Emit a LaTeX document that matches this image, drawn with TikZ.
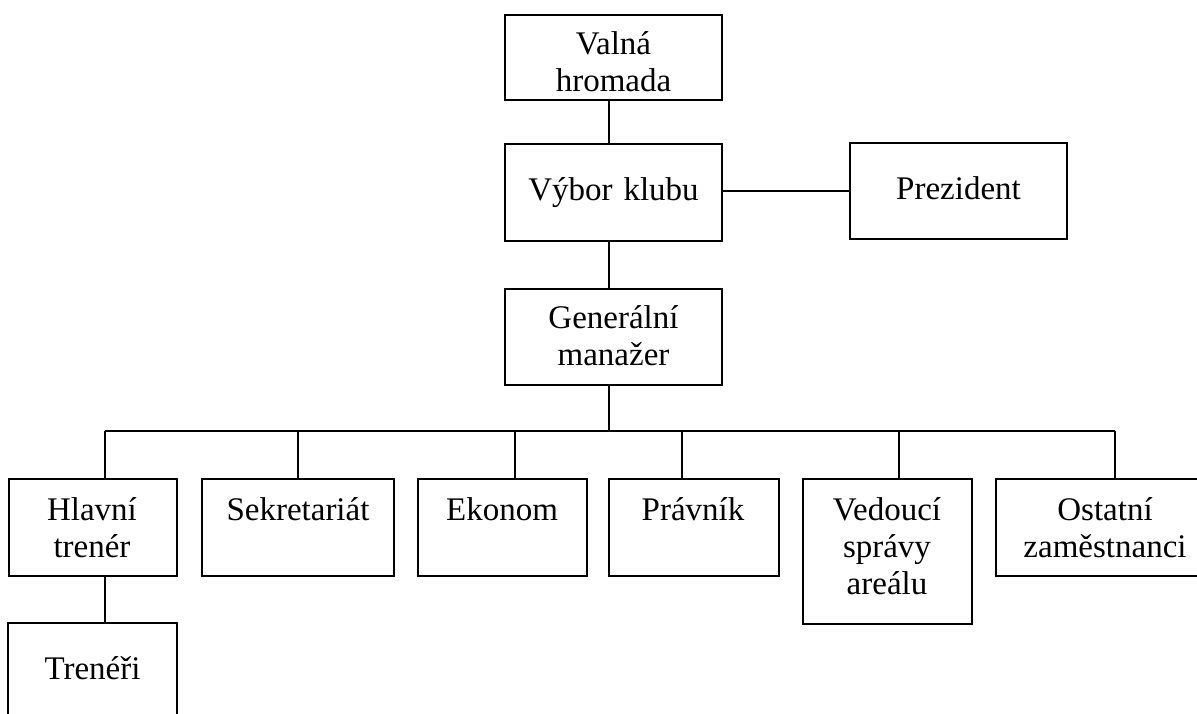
\documentclass[tikz,border=0pt]{standalone}
\usepackage{fontspec}
\setmainfont{Liberation Serif}
\begin{document}
\begin{tikzpicture}[x=1pt,y=-1pt,
  orgbox/.style={draw, line width=1.8pt, inner sep=0pt, fill=none},
  lbl/.style={anchor=base, align=center, text width=210pt, inner sep=0pt,
    font=\fontsize{33}{37}\selectfont},
  link/.style={line width=1.8pt}]
\useasboundingbox (0,0) rectangle (1197,713);

% boxes
\node[orgbox, minimum width=217pt, minimum height=85pt] (vh) at (613.5,57.5) {};
\node[orgbox, minimum width=217pt, minimum height=97pt] (vk) at (613.5,192.5) {};
\node[orgbox, minimum width=217pt, minimum height=96pt] (pz) at (958.5,191) {};
\node[orgbox, minimum width=217pt, minimum height=96pt] (gm) at (613.5,337) {};
\node[orgbox, minimum width=168pt, minimum height=97pt] (hl) at (93,527.5) {};
\node[orgbox, minimum width=192pt, minimum height=97pt] (sk) at (298,527.5) {};
\node[orgbox, minimum width=169pt, minimum height=97pt] (ek) at (502.5,527.5) {};
\node[orgbox, minimum width=170pt, minimum height=97pt] (pv) at (694,527.5) {};
\node[orgbox, minimum width=169pt, minimum height=145pt] (vd) at (887.5,551.5) {};
\node[orgbox, minimum width=218pt, minimum height=97pt] (os) at (1105,527.5) {};
\node[orgbox, minimum width=169pt, minimum height=97pt] (tr) at (92.5,671.5) {};

% labels
\node[lbl] (vh-t) at (613.5,54) {Valná\\hromada};
\node[lbl] (vk-t) at (613.5,200) {Výbor klubu};
\node[lbl] (pz-t) at (958.5,199) {Prezident};
\node[lbl] (gm-t) at (613.5,328) {Generální\\manažer};
\node[lbl] (hl-t) at (92,520) {Hlavní\\trenér};
\node[lbl] (sk-t) at (298,520) {Sekretariát};
\node[lbl] (ek-t) at (502,520) {Ekonom};
\node[lbl] (pv-t) at (693,520) {Právník};
\node[lbl] (vd-t) at (887,520) {Vedoucí\\správy\\areálu};
\node[lbl] (os-t) at (1105,520) {Ostatní\\zaměstnanci};
\node[lbl] (tr-t) at (92.5,679) {Trenéři};

% connectors
\coordinate (busL) at (105,431);
\coordinate (busR) at (1115,431);
\draw[link] ([xshift=-4.5pt]vh.south) -- ([xshift=-4.5pt]vk.north);
\draw[link] (vk.east |- pz.west) -- (pz.west);
\draw[link] ([xshift=-4.5pt]vk.south) -- ([xshift=-4.5pt]gm.north);
\draw[link] ([xshift=-4.5pt]gm.south) -- ([xshift=-4.5pt]gm.south |- busL);
\draw[link] (busL) -- (busR);
\draw[link] (busL) -- (hl.north -| busL);
\draw[link] (sk.north |- busL) -- (sk.north);
\draw[link] ([xshift=12.5pt]ek.north |- busL) -- ([xshift=12.5pt]ek.north);
\draw[link] ([xshift=-12pt]pv.north |- busL) -- ([xshift=-12pt]pv.north);
\draw[link] ([xshift=11.5pt]vd.north |- busL) -- ([xshift=11.5pt]vd.north);
\draw[link] (busR) -- (os.north -| busR);
\draw[link] (hl.south -| busL) -- (tr.north -| busL);
\end{tikzpicture}
\end{document}
